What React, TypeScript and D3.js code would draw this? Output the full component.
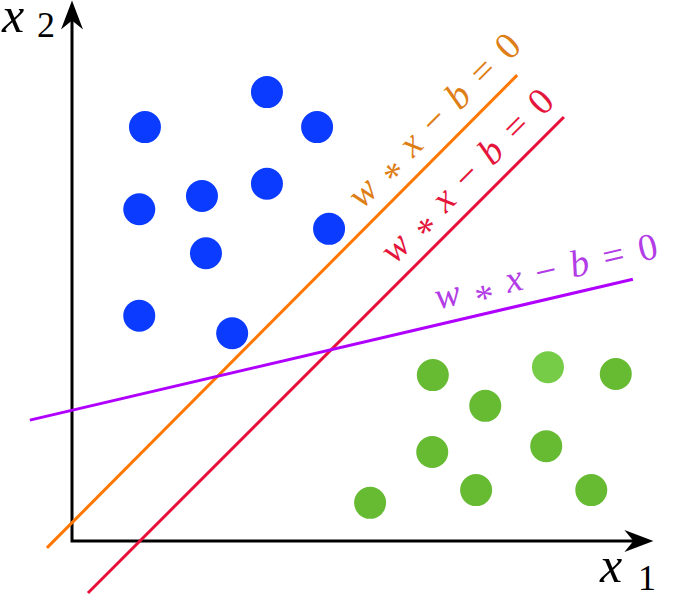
import * as d3 from 'd3';

// data units: the axes run from 0 to 10 on both sides
const bluePoints: [number, number][] = [
  [3.42, 8.47], [1.28, 7.81], [4.30, 7.81], [1.18, 6.26], [2.28, 6.51],
  [3.42, 6.74], [4.51, 5.89], [2.35, 5.43], [1.18, 4.25], [2.81, 3.92],
];
const greenPoints: [number, number][] = [
  [6.33, 3.13], [9.54, 3.15], [7.25, 2.55], [6.32, 1.68],
  [8.32, 1.79], [5.23, 0.72], [7.09, 0.96], [9.11, 0.96],
];
const lightGreenPoints: [number, number][] = [[8.35, 3.28]];

const boundaryNames = ['orange', 'red', 'purple'];
const boundaryStarts: [number, number][] = [[-0.44, -0.13], [0.28, -0.98], [-0.74, 2.28]];
const boundaryEnds: [number, number][] = [[7.81, 8.79], [8.63, 8.00], [9.84, 4.94]];
const labelAt = [0.693, 0.667, 0.682];
const labelText = ['w', '*', 'x', '−', 'b', '=', '0'];

const lineColors: Record<string, string> = { orange: '#ff7700', red: '#e8103a', purple: '#b000ff' };
const textColors: Record<string, string> = { orange: '#de7e16', red: '#e4163c', purple: '#b23ce6' };

export default function App() {
  const width = 680;
  const height = 600;
  const x = d3.scaleLinear().domain([0, 10]).range([72, 642]);
  const y = d3.scaleLinear().domain([0, 10]).range([541, 11]);
  const line = d3.line<[number, number]>().x((d) => x(d[0])).y((d) => y(d[1]));

  const x0 = x(0);
  const y0 = y(0);
  const serif = { fontFamily: '"Liberation Serif", serif' };

  return (
    <svg width={width} height={height} style={{ display: 'block', position: 'absolute', left: 0, top: 0 }}>
      <rect width={width} height={height} fill="#fff" />

      {/* axes */}
      <path d={`M${x0},${y(9.85)}V${y0}H${x(10.05)}`} fill="none" stroke="#000" strokeWidth={3} />
      <path d={`M${x0},${y(10.2)} L${x0 + 11},${y(10.2) + 29} L${x0},${y(10.2) + 20} L${x0 - 11},${y(10.2) + 29} Z`} fill="#000" />
      <path d={`M${x(10.2)},${y0} L${x(10.2) - 29},${y0 - 11} L${x(10.2) - 20},${y0} L${x(10.2) - 29},${y0 + 11} Z`} fill="#000" />

      <text x={2} y={32} style={serif} fontStyle="italic" fontSize={50}>x</text>
      <text x={37} y={37} style={serif} fontSize={36}>2</text>
      <text x={600} y={582} style={serif} fontStyle="italic" fontSize={50}>x</text>
      <text x={638} y={590} style={serif} fontSize={36}>1</text>

      {/* points */}
      {bluePoints.map((d, i) => (
        <circle key={'b' + i} cx={x(d[0])} cy={y(d[1])} r={16} fill="#0a3bff" />
      ))}
      {greenPoints.map((d, i) => (
        <circle key={'g' + i} cx={x(d[0])} cy={y(d[1])} r={16} fill="#66bb33" />
      ))}
      {lightGreenPoints.map((d, i) => (
        <circle key={'lg' + i} cx={x(d[0])} cy={y(d[1])} r={16} fill="#77cc47" />
      ))}

      {/* separating lines */}
      {boundaryNames.map((name, i) => {
        const a = boundaryStarts[i];
        const b = boundaryEnds[i];
        const ax = x(a[0]), ay = y(a[1]), bx = x(b[0]), by = y(b[1]);
        const ang = Math.atan2(by - ay, bx - ax);
        const t = labelAt[i];
        const off = 15;
        const px = ax + (bx - ax) * t + Math.sin(ang) * off;
        const py = ay + (by - ay) * t - Math.cos(ang) * off;
        return (
          <g key={name}>
            <path d={line([a, b]) ?? ''} fill="none" stroke={lineColors[name]} strokeWidth={3} />
            <text
              transform={`translate(${px},${py}) rotate(${(ang * 180) / Math.PI})`}
              style={serif}
              fontSize={38}
              fill={textColors[name]}
            >
              {labelText.map((s, k) => {
                const prev = labelText[k - 1];
                const dy = s === '*' ? 12 : prev === '*' ? -12 : 0;
                const dx = k === 0 ? 0 : s === '=' || prev === '=' ? 15 : 14;
                return (
                  <tspan key={k} dx={dx} dy={dy} fontStyle={/[a-z]/.test(s) ? 'italic' : 'normal'}>
                    {s}
                  </tspan>
                );
              })}
            </text>
          </g>
        );
      })}
    </svg>
  );
}
